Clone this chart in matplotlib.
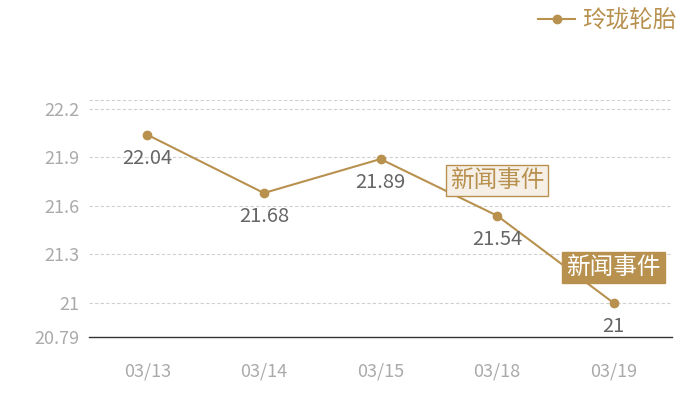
import matplotlib.pyplot as plt

plt.rcParams['font.family'] = ['Noto Sans CJK SC', 'DejaVu Sans']

dates = ['03/13', '03/14', '03/15', '03/18', '03/19']
prices = [22.04, 21.68, 21.89, 21.54, 21.00]
yticks = [20.79, 21, 21.3, 21.6, 21.9, 22.2]
y_top = 22.255
series_name = '玲珑轮胎'
# news event markers: (index, filled box?)
events = [(3, False), (4, True)]
event_text = '新闻事件'

gold = '#b8914f'
x = list(range(len(dates)))

fig = plt.figure(figsize=(7, 4), dpi=100)
ax = fig.add_axes([89 / 700, 1 - 337 / 400, 583 / 700, 237 / 400])

ax.plot(x, prices, color=gold, linewidth=1.5, marker='o', markersize=6,
        label=series_name, zorder=3)

for xi, v in zip(x, prices):
    ax.annotate(f'{v:g}', (xi, v), xytext=(0, -17), textcoords='offset points',
                ha='center', va='center', fontsize=14.5, color='#666666')

for i, filled in events:
    if filled:
        box = dict(boxstyle='square,pad=0.17', fc=gold, ec=gold, lw=1)
        tc = 'white'
    else:
        box = dict(boxstyle='square,pad=0.17', fc='#f5efe6', ec=gold, lw=1)
        tc = gold
    ax.annotate(event_text, (i, prices[i]), xytext=(0, 25.5), textcoords='offset points',
                ha='center', va='center', fontsize=17, color=tc, bbox=box, zorder=5)

ax.set_xlim(-0.5, len(dates) - 0.5)
ax.set_ylim(yticks[0], y_top)
ax.set_xticks(x)
ax.set_xticklabels(dates)
ax.set_yticks(yticks)
ax.set_yticklabels([f'{t:g}' for t in yticks])
ax.tick_params(length=0, colors='#aaaaaa', labelsize=13)
ax.tick_params(axis='x', pad=18)
ax.tick_params(axis='y', pad=7)

for t in yticks[1:] + [y_top]:
    ax.axhline(t, color='#d0d0d0', linestyle=(0, (3, 2)), linewidth=0.8, zorder=1)

for s in ['top', 'right', 'left']:
    ax.spines[s].set_visible(False)
ax.spines['bottom'].set_color('#333333')
ax.spines['bottom'].set_linewidth(1)

leg = fig.legend(loc='upper right', bbox_to_anchor=(690 / 700, 1.01), frameon=False,
                 fontsize=17, handlelength=1.6, handletextpad=0.3, borderaxespad=0.15)
for t in leg.get_texts():
    t.set_color(gold)

fig.savefig('out.png', dpi=100)
